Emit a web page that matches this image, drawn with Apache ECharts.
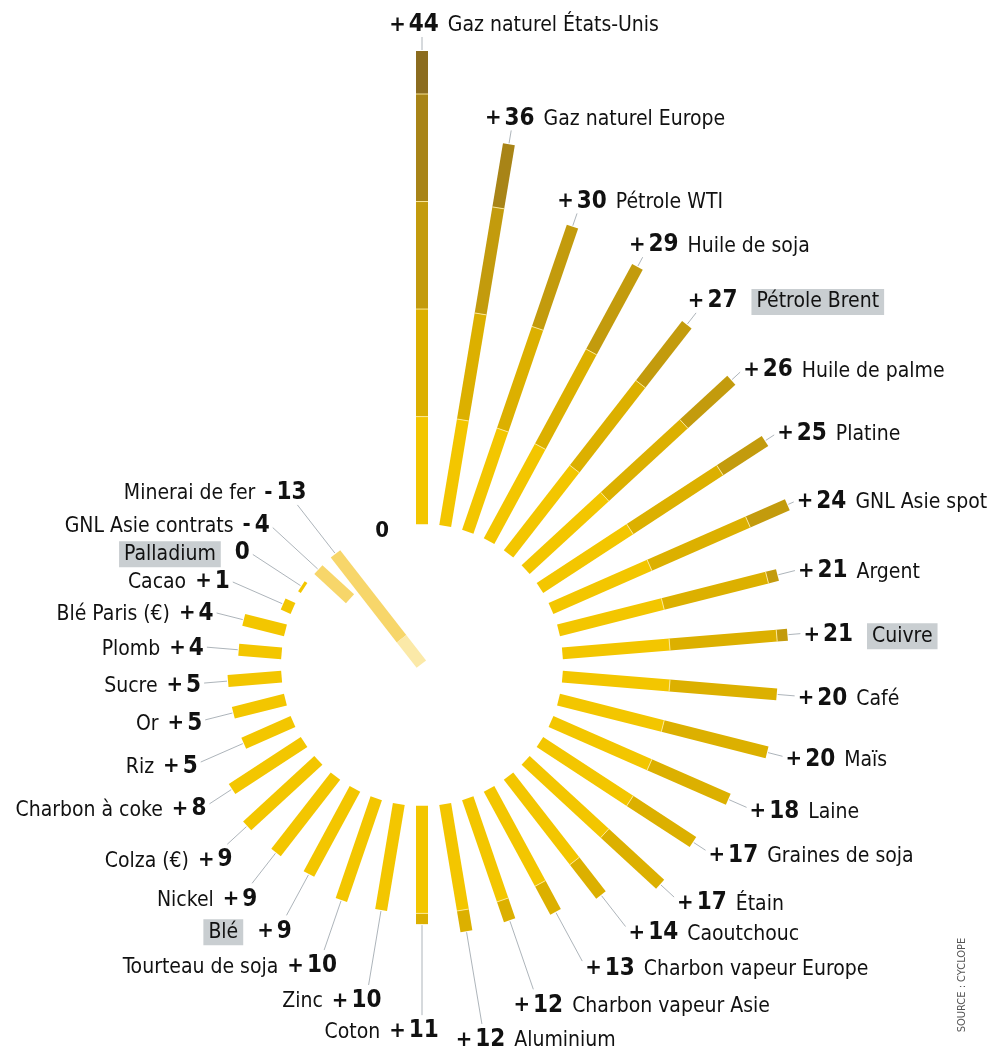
<!DOCTYPE html>
<html>
<head>
<meta charset="utf-8">
<script src="https://cdn.jsdelivr.net/npm/echarts@6/dist/echarts.min.js"></script>
<style>
html,body{margin:0;padding:0;background:#ffffff;}
#chart{width:991px;height:1048px;}
</style>
</head>
<body>
<div id="chart"></div>
<script>
// ---- data ----
const categories = [
  'Gaz naturel États-Unis','Gaz naturel Europe','Pétrole WTI','Huile de soja','Pétrole Brent',
  'Huile de palme','Platine','GNL Asie spot','Argent','Cuivre','Café','Maïs','Laine',
  'Graines de soja','Étain','Caoutchouc','Charbon vapeur Europe','Charbon vapeur Asie',
  'Aluminium','Coton','Zinc','Tourteau de soja','Blé','Nickel','Colza (€)','Charbon à coke',
  'Riz','Or','Sucre','Plomb','Blé Paris (€)','Cacao','Palladium','GNL Asie contrats','Minerai de fer'
];
const values = [
  44, 36, 30, 29, 27, 26, 25, 24, 21, 21, 20, 20, 18, 17, 17, 14, 13, 12, 12, 11,
  10, 10, 9, 9, 9, 8, 5, 5, 5, 4, 4, 1, 0.3, -4, -13
];
const highlighted = ['Pétrole Brent', 'Cuivre', 'Blé', 'Palladium'];
const zeroLabel = ['0'];
const sourceText = 'SOURCE : CYCLOPE';

// ---- layout / style (not data) ----
const leaderLen = [14, 14, 14, 11, 15,
                   12, 11, 7, 18, 13, 18, 16, 20, 15, 19, 40, 56,
                   73, 94, 91, 76, 53, 47, 39, 27,
                   27, 47, 29, 24, 32, 28, 55, 58, 62,
                   62];
const SLOTS = 38;
const RMIN = -13.1, RMAX = 44;
const segBreaks = [10, 20, 30, 40];
const posColors = ['#f3c600', '#dcb000', '#c39b0d', '#a88417', '#8b6c1f'];
const negColors = ['#f7d66a', '#fbe9a8'];
const FAMILY = '"Liberation Sans Narrow", "DejaVu Sans Condensed", "Roboto Condensed", sans-serif';
const SIGN_FONT = 'bold 22px ' + FAMILY;
const DIG_FONT = 'bold 24px ' + FAMILY;
const FONT_NAME = '21px ' + FAMILY;

const mctx = document.createElement('canvas').getContext('2d');
function textW(t, f) { mctx.font = f; return mctx.measureText(t).width; }
function numParts(v) {
  const r = Math.round(v);
  if (r > 0) return ['+', String(r)];
  if (r < 0) return ['-', String(-r)];
  return ['', '0'];
}

function renderItem(params, api) {
  const v = api.value(0), i = api.value(1);
  const O = api.coord([RMIN, i]);
  const P0 = api.coord([0, i]);
  const dx = P0[0] - O[0], dy = P0[1] - O[1];
  const L = Math.hypot(dx, dy);
  const ux = dx / L, uy = dy / L;
  const nx = -uy, ny = ux, hw = 6;
  const children = [];
  function quad(a, b, color) {
    const A = api.coord([a, i]), B = api.coord([b, i]);
    return {
      type: 'polygon',
      shape: { points: [
        [A[0] + nx * hw, A[1] + ny * hw], [B[0] + nx * hw, B[1] + ny * hw],
        [B[0] - nx * hw, B[1] - ny * hw], [A[0] - nx * hw, A[1] - ny * hw]
      ] },
      style: { fill: color }
    };
  }
  function sep(b) {
    const B = api.coord([b, i]);
    return {
      type: 'line',
      shape: { x1: B[0] + nx * hw, y1: B[1] + ny * hw, x2: B[0] - nx * hw, y2: B[1] - ny * hw },
      style: { stroke: 'rgba(255,236,160,0.9)', lineWidth: 1 }
    };
  }
  if (v >= 0) {
    let prev = 0;
    for (let k = 0; k <= segBreaks.length && prev < v; k++) {
      const top = k < segBreaks.length ? Math.min(segBreaks[k], v) : v;
      if (top > prev) children.push(quad(prev, top, posColors[k]));
      prev = top;
    }
    segBreaks.forEach(b => { if (b < v) children.push(sep(b)); });
  } else {
    children.push(quad(0, Math.max(v, -10), negColors[0]));
    if (v < -10) children.push(quad(-10, v, negColors[1]));
  }
  // leader line
  const S = api.coord([Math.max(v, 0), i]);
  const len = leaderLen[i];
  const E = [S[0] + ux * len, S[1] + uy * len];
  children.push({
    type: 'line',
    shape: { x1: S[0] + ux * 1, y1: S[1] + uy * 1, x2: E[0], y2: E[1] },
    style: { stroke: '#a4abb2', lineWidth: 0.9 }
  });
  // label: sign + digits, then name
  const parts = numParts(v);
  const sw = parts[0] ? textW(parts[0], SIGN_FONT) + (parts[0] === '-' ? 4 : 3) : 0;
  const dw = textW(parts[1], DIG_FONT);
  const nw = sw + dw;
  const th = i * 360 / SLOTS;
  let cx, cy;
  if (th < 40 || th > 320) {
    cx = E[0] + (ux >= 0 ? -8 + 40 * ux : -12); cy = E[1] - 14;
  } else if (th < 155) {
    cx = E[0] + 3 + nw / 2; cy = E[1] + uy * 6;
  } else if (th < 230) {
    cx = E[0] + (ux >= 0 ? -8 + 40 * ux : -12); cy = E[1] + 14;
  } else {
    cx = E[0] - 3 - nw / 2; cy = E[1] + uy * 6;
  }
  cy += 2;
  const left = cx - nw / 2;
  if (parts[0]) {
    children.push({ type: 'text', style: { text: parts[0], x: left, y: cy, font: SIGN_FONT, fill: '#111', align: 'left', verticalAlign: 'middle' } });
  }
  children.push({ type: 'text', style: { text: parts[1], x: left + sw, y: cy, font: DIG_FONT, fill: '#111', align: 'left', verticalAlign: 'middle' } });

  const name = categories[i];
  const hl = highlighted.indexOf(name) >= 0;
  const gap = hl ? 14 : 9;
  const isRight = i < 19;
  const nameStyle = {
    text: name,
    x: isRight ? cx + nw / 2 + gap : cx - nw / 2 - gap,
    y: cy + 1,
    font: FONT_NAME, fill: '#111',
    align: isRight ? 'left' : 'right', verticalAlign: 'middle'
  };
  if (hl) { nameStyle.backgroundColor = '#c9ced1'; nameStyle.padding = [3, 5, 2, 5]; }
  children.push({ type: 'text', style: nameStyle });
  return { type: 'group', children: children };
}

const barData = values.map((v, i) => [v, i]);

const chart = echarts.init(document.getElementById('chart'), null, { renderer: 'canvas' });
chart.setOption({
  backgroundColor: '#ffffff',
  animation: false,
  polar: { center: [422, 665], radius: [0, 614] },
  angleAxis: {
    type: 'value', min: 0, max: SLOTS, startAngle: 90, clockwise: true,
    axisLine: { show: false }, axisTick: { show: false }, axisLabel: { show: false }, splitLine: { show: false }
  },
  radiusAxis: {
    type: 'value', min: RMIN, max: RMAX,
    axisLine: { show: false }, axisTick: { show: false }, axisLabel: { show: false }, splitLine: { show: false }
  },
  series: [
    {
      type: 'custom', coordinateSystem: 'polar', renderItem: renderItem,
      encode: { radius: 0, angle: 1 }, data: barData, silent: true, clip: false
    },
    {
      type: 'custom', coordinateSystem: 'polar', silent: true, clip: false,
      encode: { radius: 0, angle: 1 }, data: [[0, 36.26]],
      renderItem: function (params, api) {
        const p = api.coord([api.value(0), api.value(1)]);
        return { type: 'text', style: { text: zeroLabel[0], x: p[0], y: p[1] + 1, font: 'bold 22px ' + FAMILY, fill: '#111', align: 'center', verticalAlign: 'middle' } };
      }
    }
  ],
  graphic: [{
    type: 'text', x: 962, y: 985, rotation: Math.PI / 2,
    style: { text: sourceText, font: '11px ' + FAMILY, fill: '#555', align: 'center', verticalAlign: 'middle' }
  }]
});
</script>
</body>
</html>
